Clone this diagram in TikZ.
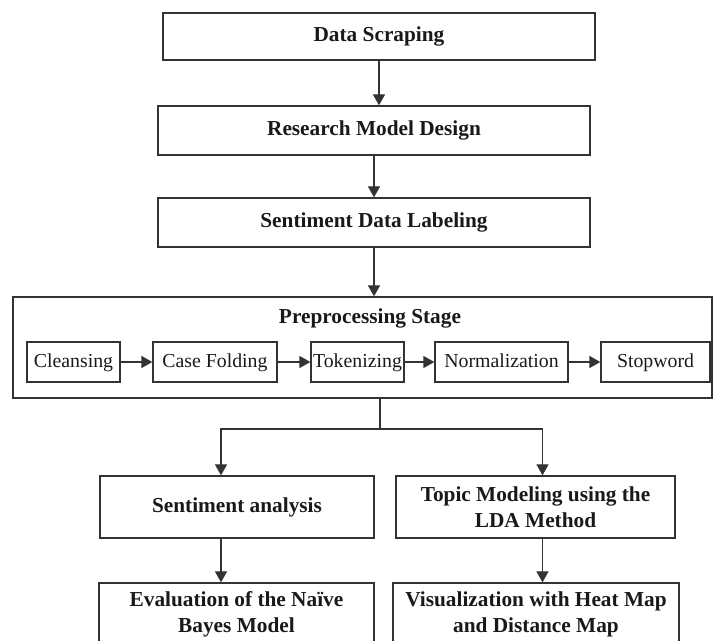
\documentclass[tikz,border=0pt]{standalone}
\usepackage{fontspec}
\setmainfont{Liberation Serif}
\usetikzlibrary{arrows.meta}
\begin{document}
\begin{tikzpicture}[x=0.5pt, y=-0.5pt, line width=0.65pt,
  bx/.style={draw=black!80, inner sep=0pt, align=center, text=black!90,
    font=\fontsize{10.65}{13}\selectfont\bfseries},
  sub/.style={draw=black!80, inner sep=0pt, minimum height=20pt, text=black!90,
    text height=1.6ex, text depth=.45ex, font=\fontsize{9.9}{12}\selectfont},
  arr/.style={draw=black!80, -{Triangle[length=5.5pt, width=6pt]}},
]
  \useasboundingbox (0,0) rectangle (713,641);
  % colonne du haut
  \node[bx, minimum width=216pt, minimum height=23.5pt] (scrap)  at (379,36.5)  {Data Scraping};
  \node[bx, minimum width=216pt, minimum height=24.5pt] (design) at (374,130.5) {Research Model Design};
  \node[bx, minimum width=216pt, minimum height=24.5pt] (label)  at (374,222.5) {Sentiment Data Labeling};

  % bloc de prétraitement
  \node[draw=black!80, minimum width=349.5pt, minimum height=50.5pt] (prep) at (362.5,347.5) {};
  \node[bx, draw=none] (preptit) at (370,318) {Preprocessing Stage};
  \node[sub, minimum width=46.5pt] (clean) at (73.5,362)  {Cleansing};
  \node[sub, minimum width=62pt]   (fold)  at (215,362)   {Case Folding};
  \node[sub, minimum width=46.5pt] (token) at (357.5,362) {Tokenizing};
  \node[sub, minimum width=66.5pt] (norm)  at (501.5,362) {Normalization};
  \node[sub, minimum width=54.5pt] (stop)  at (655.5,362) {Stopword};

  % deux branches
  \node[bx, minimum width=137pt,   minimum height=31pt] (senti)  at (237,507)   {Sentiment analysis};
  \node[bx, minimum width=139.5pt, minimum height=31pt] (topic)  at (535.5,507) {Topic Modeling using the\\LDA Method};
  \node[bx, minimum width=137.5pt, minimum height=31pt] (eval)   at (236.5,614) {Evaluation of the Naïve\\Bayes Model};
  \node[bx, minimum width=143pt,   minimum height=31pt] (visual) at (536,614)   {Visualization with Heat Map\\and Distance Map};
  \coordinate (split) at (380,429);

  \draw[arr] (scrap.south) -- (scrap.south |- design.north);
  \draw[arr] (design.south) -- (design.south |- label.north);
  \draw[arr] (label.south) -- (label.south |- prep.north);
  \foreach \a/\b in {clean/fold, fold/token, token/norm, norm/stop}
    \draw[arr] (\a.east) -- (\b.west);
  \draw[draw=black!80] (prep.south -| split) -- (split);
  \draw[arr] (split) -| ([xshift=-8pt]senti.north);
  \draw[arr] (split) -| ([xshift=3.5pt]topic.north);
  \draw[arr] ([xshift=-8pt]senti.south) -- ([xshift=-8pt]senti.south |- eval.north);
  \draw[arr] ([xshift=3.5pt]topic.south) -- ([xshift=3.5pt]topic.south |- visual.north);
\end{tikzpicture}
\end{document}
